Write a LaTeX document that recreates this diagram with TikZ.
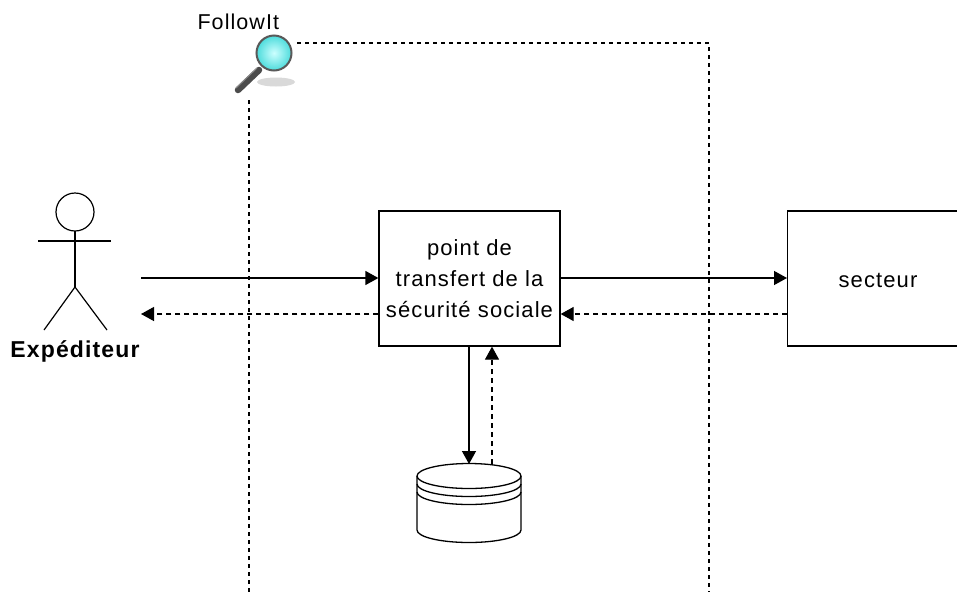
\documentclass[tikz,border=0pt]{standalone}
\usepackage{fontspec}
\setmainfont{Liberation Sans}
\newfontfamily\lblfont[LetterSpace=5]{Liberation Sans}
\usetikzlibrary{arrows.meta}
\tikzset{
  boxnode/.style={draw=black,line width=1.3pt,fill=white,inner sep=0pt,align=center,font=\lblfont\fontsize{22}{31}\selectfont},
  flow/.style={line width=1.3pt,-{Triangle[length=13pt,width=14pt]}},
  backflow/.style={flow,dash pattern=on 5pt off 4pt},
  life/.style={line width=1.2pt,dash pattern=on 4pt off 4pt},
  stick/.style={line width=1.2pt},
  dbline/.style={line width=1.3pt}
}
\begin{document}
\begin{tikzpicture}[x=1pt,y=-1pt]
\useasboundingbox[fill=white] (0,0) rectangle (957,595);
% lifelines
\coordinate (lifeA) at (249,100);
\coordinate (lifeAend) at (249,595);
\coordinate (lifeB) at (297,43);
\coordinate (lifeBcorner) at (709,43);
\coordinate (lifeBend) at (709,592);
\draw[life] (lifeA) -- (lifeAend);
\draw[life] (lifeB) -- (lifeBcorner) -- (lifeBend);
% boxes
\node[boxnode,minimum width=181pt,minimum height=135pt] (pt) at (469.5,278.5) {point de\\transfert de la\\sécurité sociale};
\node[boxnode,minimum width=180pt,minimum height=135pt,anchor=west] (sec) at (787,278.5) {};
\node[font=\lblfont\fontsize{22}{28}\selectfont] (seclabel) at (878,280) {secteur};
% actor
\draw[stick] (75,212) circle (19);
\draw[stick] (38,241) -- (111,241);
\draw[stick] (75,231) -- (75,287);
\draw[stick] (44,330) -- (75,287) -- (107,330);
\node[font=\lblfont\fontsize{23}{28}\selectfont\bfseries] (actor) at (75,351) {Expéditeur};
\coordinate (actorOut) at (141,278);
\coordinate (actorIn) at (141,314);
% database
\coordinate (dbTopA) at (469,464);
\coordinate (dbTopB) at (492,464);
\draw[dbline,fill=white] (417,476) -- (417,530) arc[start angle=180,end angle=0,x radius=52,y radius=12.5] -- (521,476);
\draw[dbline,fill=white] (469,476) ellipse [x radius=52,y radius=12.5];
\draw[dbline] (417,484) arc[start angle=180,end angle=0,x radius=52,y radius=12.5];
\draw[dbline] (417,492) arc[start angle=180,end angle=0,x radius=52,y radius=12.5];
% connectors
\draw[flow] (actorOut) -- (pt.west |- actorOut);
\draw[backflow] (pt.west |- actorIn) -- (actorIn);
\draw[flow] (pt.east |- actorOut) -- (sec.west |- actorOut);
\draw[backflow] (sec.west |- actorIn) -- (pt.east |- actorIn);
\draw[flow] (pt.south -| dbTopA) -- (dbTopA);
\draw[backflow] (dbTopB) -- (pt.south -| dbTopB);
% FollowIt
\node[font=\lblfont\fontsize{21.5}{26}\selectfont,anchor=west] (follow) at (194,22) {FollowIt};
\fill[black!15] (276,82) ellipse [x radius=19,y radius=4.5];
\draw[line width=6.5pt,line cap=round,black!70] (238,90) -- (259,70);
\draw[line width=1pt,black!45] (236,88) -- (257,68);
\shade[inner color=cyan!20,outer color=cyan!60!teal!70,draw=black!65,line width=2pt] (274,53) circle (17.5);
\end{tikzpicture}
\end{document}
